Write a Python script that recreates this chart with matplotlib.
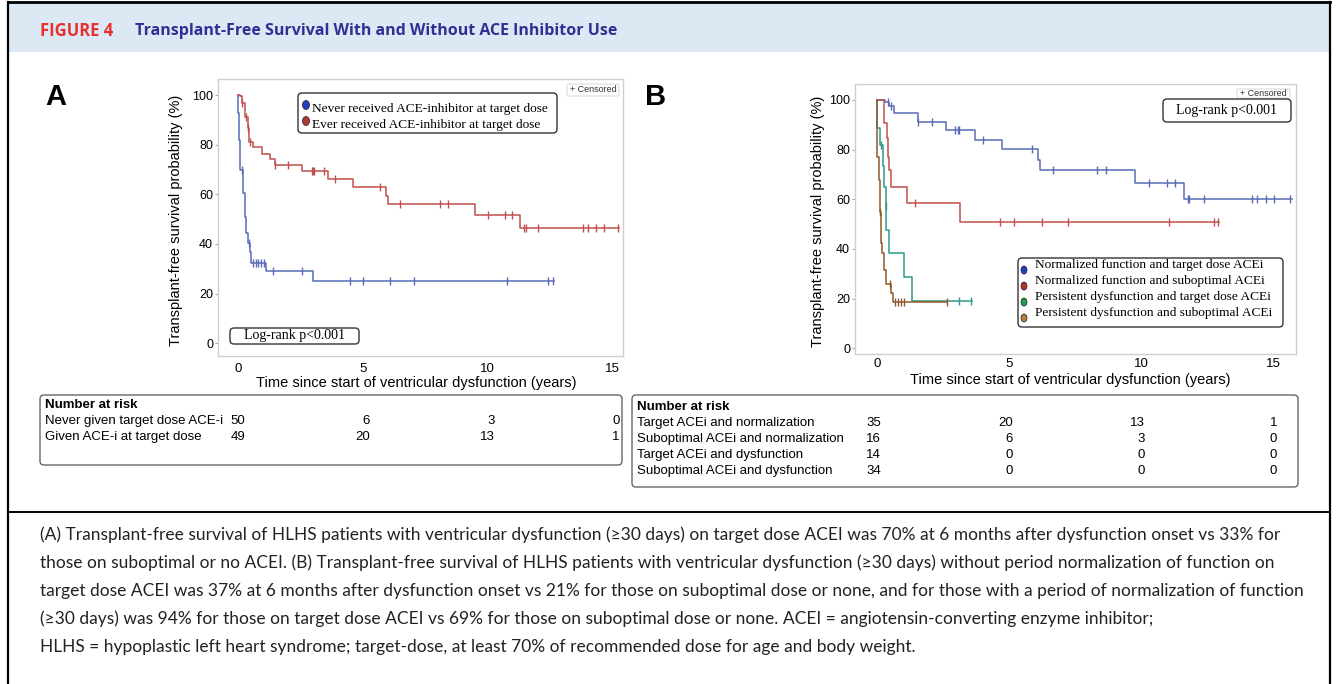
import numpy as np
import matplotlib
matplotlib.use('Agg')
import matplotlib.pyplot as plt
from matplotlib.patches import FancyBboxPatch, Rectangle, Ellipse
from matplotlib.transforms import blended_transform_factory

W, H = 1336, 684

# ---- Panel A: Kaplan-Meier steps (years, survival %) ----
never_t = [0, 0.02, 0.05, 0.08, 0.21, 0.28, 0.34, 0.39, 0.47, 0.52, 1.11, 3.02]
never_s = [100, 92.6, 81.9, 69.8, 60.4, 50.9, 44.2, 40.2, 36.8, 32.4, 29.0, 25.1]
never_end = 12.66
never_cens = [0.15, 0.44, 0.61, 0.71, 0.82, 0.92, 1.03, 1.42, 2.55, 4.51, 5.02,
              6.09, 7.07, 10.78, 12.43, 12.62]

ever_t = [0, 0.08, 0.15, 0.30, 0.39, 0.46, 0.59, 0.98, 1.28, 1.48, 2.58, 3.60,
          4.63, 5.92, 6.03, 9.51, 11.29]
ever_s = [100, 99.6, 96.9, 91.0, 86.6, 81.2, 78.9, 76.2, 74.1, 71.8, 69.5, 66.1,
          62.8, 59.3, 56.0, 51.7, 46.3]
ever_end = 15.27
ever_cens = [0.16, 0.32, 0.41, 0.50, 1.49, 1.99, 2.96, 3.01, 3.06, 3.46, 3.89,
             5.69, 6.50, 8.10, 8.44, 10.04, 10.71, 10.98, 11.48, 11.54, 12.05,
             13.83, 14.03, 14.37, 14.66, 15.23]

# ---- Panel B ----
nt_t = [0, 0.29, 0.44, 0.63, 1.54, 2.62, 3.70, 4.75, 6.09, 6.18, 9.77, 11.62]
nt_s = [100, 99.0, 97.5, 94.6, 91.3, 87.9, 83.9, 80.1, 75.8, 71.8, 66.7, 60.0]
nt_end = 15.69
nt_cens = [0.40, 0.52, 1.56, 2.10, 2.95, 3.05, 3.12, 4.00, 5.86, 6.68, 8.32, 8.67,
           10.31, 10.97, 11.28, 11.76, 11.82, 12.38, 14.18, 14.40, 14.72, 15.04, 15.63]

ns_t = [0, 0.28, 0.38, 0.42, 0.47, 0.54, 1.15, 3.13]
ns_s = [100, 90.6, 84.6, 77.2, 71.8, 64.8, 58.4, 51.0]
ns_end = 12.95
ns_cens = [1.45, 4.67, 5.19, 6.26, 7.25, 11.05, 12.76, 12.92]

pt_t = [0, 0.02, 0.13, 0.23, 0.28, 0.33, 0.36, 0.44, 1.03, 1.33]
pt_s = [100, 88.8, 81.9, 73.4, 65.1, 57.3, 47.6, 38.3, 28.6, 19.2]
pt_end = 3.59
pt_cens = [0.17, 0.34, 3.09, 3.57]

ps_t = [0, 0.02, 0.08, 0.10, 0.15, 0.21, 0.28, 0.36, 0.53, 0.60]
ps_s = [100, 77.2, 67.8, 55.0, 42.3, 38.5, 31.5, 25.9, 22.1, 18.8]
ps_end = 2.65
ps_cens = [0.12, 0.49, 0.67, 0.78, 0.90, 1.03, 2.65]

a_labels = ['Never received ACE-inhibitor at target dose',
            'Ever received ACE-inhibitor at target dose']
b_labels = ['Normalized function and target dose ACEi',
            'Normalized function and suboptimal ACEi',
            'Persistent dysfunction and target dose ACEi',
            'Persistent dysfunction and suboptimal ACEi']

risk_times = [0, 5, 10, 15]
a_rows = ['Never given target dose ACE-i', 'Given ACE-i at target dose']
a_risk = [[50, 6, 3, 0], [49, 20, 13, 1]]
b_rows = ['Target ACEi and normalization', 'Suboptimal ACEi and normalization',
          'Target ACEi and dysfunction', 'Suboptimal ACEi and dysfunction']
b_risk = [[35, 20, 13, 1], [16, 6, 3, 0], [14, 0, 0, 0], [34, 0, 0, 0]]

caption = [
    '(A) Transplant-free survival of HLHS patients with ventricular dysfunction (\u226530 days) on target dose ACEI was 70% at 6 months after dysfunction onset vs 33% for',
    'those on suboptimal or no ACEI. (B) Transplant-free survival of HLHS patients with ventricular dysfunction (\u226530 days) without period normalization of function on',
    'target dose ACEI was 37% at 6 months after dysfunction onset vs 21% for those on suboptimal dose or none, and for those with a period of normalization of function',
    '(\u226530 days) was 94% for those on target dose ACEI vs 69% for those on suboptimal dose or none. ACEI = angiotensin-converting enzyme inhibitor;',
    'HLHS = hypoplastic left heart syndrome; target-dose, at least 70% of recommended dose for age and body weight.',
]

line_cols_a = ['#5a6cb8', '#c0504d']
line_cols_b = ['#5a6cb8', '#c0504d', '#2f9a8c', '#8f5a2a']
mark_cols_a = ['#1f3fbf', '#b3362c']
mark_cols_b = ['#1f3fbf', '#b3362c', '#1f9a52', '#b57a36']

SANS = ['Liberation Sans', 'DejaVu Sans']
SERIF = ['Liberation Serif', 'DejaVu Serif']
plt.rcParams['font.family'] = SANS

fig = plt.figure(figsize=(W / 100, H / 100), dpi=100)
fig.patch.set_facecolor('white')


def px_axes(l, t, r, b):
    return fig.add_axes([l / W, 1 - b / H, (r - l) / W, (b - t) / H])


def km(ax, t, s, end, cens, color):
    ax.step(np.r_[t, end], np.r_[s, s[-1]], where='post', color=color, lw=1.1, zorder=3)
    idx = np.searchsorted(t, cens, side='right') - 1
    ax.plot(cens, np.asarray(s)[idx], ls='none', marker='|', ms=6, mew=1,
            color=color, zorder=4)


def style(ax, xlim, ylim, ylab_x, xlab_y, xpad):
    ax.set_xlim(*xlim); ax.set_ylim(*ylim)
    for sp in ax.spines.values():
        sp.set_color('#cfcfcf'); sp.set_linewidth(1)
    ax.set_xticks([0, 5, 10, 15]); ax.set_yticks([0, 20, 40, 60, 80, 100])
    ax.tick_params(axis='y', length=2, color='#aaaaaa', labelsize=9, pad=1.5)
    ax.tick_params(axis='x', length=0, labelsize=9.5, pad=xpad)
    ax.set_ylabel('Transplant-free survival probability (%)', fontsize=10.5)
    ax.yaxis.set_label_coords(ylab_x, 0.49)
    ax.set_xlabel('Time since start of ventricular dysfunction (years)', fontsize=10.5)
    ax.xaxis.label.set_va('center')
    ax.xaxis.set_label_coords(0.489, xlab_y)


axA = px_axes(218, 79, 623, 356)
km(axA, never_t, never_s, never_end, never_cens, line_cols_a[0])
km(axA, ever_t, ever_s, ever_end, ever_cens, line_cols_a[1])
style(axA, (-0.80, 15.44), (-5.2, 106.5), -0.086, -0.098, 5)

axB = px_axes(855, 84, 1296, 354)
for (t, s, e, c), col in zip([(nt_t, nt_s, nt_end, nt_cens), (ns_t, ns_s, ns_end, ns_cens),
                              (pt_t, pt_s, pt_end, pt_cens), (ps_t, ps_s, ps_end, ps_cens)],
                             line_cols_b):
    km(axB, t, s, e, c, col)
style(axB, (-0.83, 15.86), (-2.3, 106.4), -0.068, -0.095, 3)

# overlay in pixel coordinates for frame, header, legends and tables
ov = fig.add_axes([0, 0, 1, 1], zorder=5)
ov.set_xlim(0, W); ov.set_ylim(H, 0); ov.axis('off')

ov.add_patch(Rectangle((8, 2), 1322, 50, facecolor='#dde8f5', edgecolor='none'))
ov.plot([8, 1330], [2, 2], color='black', lw=2)
ov.plot([8, 8], [2, H], color='black', lw=1.6)
ov.plot([1330, 1330], [2, H], color='black', lw=1.6)
ov.plot([8, 1330], [512, 512], color='black', lw=1.4)

HEAD = ['Liberation Sans Narrow', 'Open Sans', 'DejaVu Sans']
ov.text(40, 31, 'FIGURE 4', color='#e8312f', fontsize=12, fontweight='bold',
        va='center', family=HEAD)
ov.text(135, 31, 'Transplant-Free Survival With and Without ACE Inhibitor Use',
        color='#2e3192', fontsize=11.5, fontweight='bold', va='center', family=HEAD)

ov.text(56, 97, 'A', fontsize=21, fontweight='bold', ha='center', va='center')
ov.text(656, 97, 'B', fontsize=21, fontweight='bold', ha='center', va='center')


def rbox(x0, y0, x1, y1, ec='#333333', lw=1.0, r=4):
    ov.add_patch(FancyBboxPatch((x0, y0), x1 - x0, y1 - y0,
                                boxstyle=f'round,pad=0,rounding_size={r}',
                                facecolor='white', edgecolor=ec, lw=lw))


# censored boxes
rbox(567, 84, 619, 96, ec='#d0d0d0', lw=0.6, r=1)
ov.text(593, 90, '+ Censored', fontsize=6.5, ha='center', va='center', color='#333')
rbox(1237, 89, 1290, 98, ec='#d0d0d0', lw=0.6, r=1)
ov.text(1263, 93.5, '+ Censored', fontsize=6.5, ha='center', va='center', color='#333')

# log-rank boxes
rbox(230, 328, 359, 344)
ov.text(294.5, 336, 'Log-rank p<0.001', family=SERIF, fontsize=10, ha='center', va='center')
rbox(1163, 99, 1291, 122)
ov.text(1227, 110.5, 'Log-rank p<0.001', family=SERIF, fontsize=10, ha='center', va='center')

# legend A
rbox(298, 93, 557, 133)
for i, (lab, mc) in enumerate(zip(a_labels, mark_cols_a)):
    y = 109 + 16 * i
    ov.add_patch(Ellipse((306, y - 4), 7, 9, facecolor=mc, edgecolor='#222', lw=0.5))
    ov.text(311.5, y, lab, family=SERIF, fontsize=9.6, va='center')

# legend B
rbox(1018, 258, 1283, 327)
for i, (lab, mc) in enumerate(zip(b_labels, mark_cols_b)):
    y = 265 + 16 * i
    ov.add_patch(Ellipse((1024, y + 5), 6, 8, facecolor=mc, edgecolor='#222', lw=0.5))
    ov.text(1035, y, lab, family=SERIF, fontsize=9.6, va='center')

# number at risk tables
trA = blended_transform_factory(axA.transData, ov.transData)
trB = blended_transform_factory(axB.transData, ov.transData)

rbox(40, 395, 622, 465, ec='#666666')
ov.text(45, 405, 'Number at risk', fontsize=9.5, fontweight='bold', va='center')
for i, (lab, vals) in enumerate(zip(a_rows, a_risk)):
    y = 421 + 16 * i
    ov.text(45, y, lab, fontsize=9.5, va='center')
    for tx, v in zip(risk_times, vals):
        ov.text(tx + 0.3, y, str(v), fontsize=9.5, va='center', ha='right', transform=trA)

rbox(632, 395, 1298, 487, ec='#666666')
ov.text(637, 407, 'Number at risk', fontsize=9.5, fontweight='bold', va='center')
for i, (lab, vals) in enumerate(zip(b_rows, b_risk)):
    y = 423 + 16 * i
    ov.text(637, y, lab, fontsize=9.5, va='center')
    for tx, v in zip(risk_times, vals):
        ov.text(tx + 0.15, y, str(v), fontsize=9.5, va='center', ha='right', transform=trB)

# caption
for i, line in enumerate(caption):
    ov.text(40, 535 + 28 * i, line, fontsize=12.5, va='center',
            family=['Lato', 'DejaVu Sans'], color='#222222')

fig.savefig('out.png', dpi=100, facecolor='white')
